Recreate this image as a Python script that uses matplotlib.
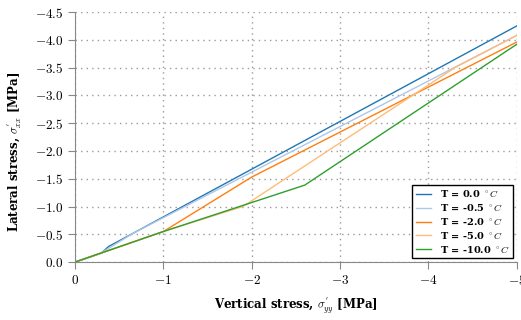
import matplotlib
matplotlib.use("Agg")
import matplotlib.pyplot as plt

plt.rcParams['font.family'] = 'DejaVu Serif'
plt.rcParams['mathtext.fontset'] = 'cm'

# vertical stress (x) and lateral stress (y), MPa, per temperature
x_t0 = [0.0, -0.30, -0.38, -5.0]
y_t0 = [0.0, -0.165, -0.28, -4.25]
x_t05 = [0.0, -0.28, -0.66, -5.0]
y_t05 = [0.0, -0.15, -0.52, -4.08]
x_t2 = [0.0, -1.0, -2.0, -5.0]
y_t2 = [0.0, -0.55, -1.53, -3.96]
x_t5 = [0.0, -1.0, -1.9, -4.3, -5.0]
y_t5 = [0.0, -0.55, -1.0, -3.5, -4.08]
x_t10 = [0.0, -1.0, -2.6, -5.0]
y_t10 = [0.0, -0.55, -1.385, -3.92]

labels = [r"T = 0.0 $^\circ C$", r"T = -0.5 $^\circ C$", r"T = -2.0 $^\circ C$",
          r"T = -5.0 $^\circ C$", r"T = -10.0 $^\circ C$"]
colors = ['#1f77b4', '#aec7e8', '#ff7f0e', '#ffbb78', '#2ca02c']

xticks = [0, -1, -2, -3, -4, -5]
yticks = [0.0, -0.5, -1.0, -1.5, -2.0, -2.5, -3.0, -3.5, -4.0, -4.5]

fig = plt.figure(figsize=(5.21, 3.2), dpi=100)
ax = fig.add_axes([0.144, 0.181, 0.848, 0.7815])

series = [(x_t0, y_t0), (x_t05, y_t05), (x_t2, y_t2), (x_t5, y_t5), (x_t10, y_t10)]
for (xs, ys), lab, c in zip(series, labels, colors):
    ax.plot(xs, ys, color=c, lw=1.0, label=lab)

ax.set_xlim(0, -5)
ax.set_ylim(0, -4.5)
ax.set_xticks(xticks)
ax.set_xticklabels([r"$%d$" % v for v in xticks])
ax.set_yticks(yticks)
ax.set_yticklabels([r"$%.1f$" % v for v in yticks])

for s in ['top', 'right']:
    ax.spines[s].set_visible(False)
for s in ['left', 'bottom']:
    ax.spines[s].set_color('#888888')
ax.tick_params(colors='#888888', labelcolor='black', labelsize=9.5, length=5, direction='out')
ax.grid(True, ls=(0, (1, 3)), color='#9a9a9a', lw=1.0)

ax.set_xlabel(r"Vertical stress, $\sigma^{'}_{yy}$ [MPa]", fontsize=8.5,
              fontweight='bold', labelpad=6)
ax.set_ylabel(r"Lateral stress, $\sigma^{'}_{xx}$ [MPa]", fontsize=8.5,
              fontweight='bold')
ax.yaxis.set_label_coords(-0.115, 0.44)

leg = ax.legend(loc='lower right', prop={'size': 7, 'weight': 'bold'}, fancybox=False,
                edgecolor='black', framealpha=1.0, borderaxespad=0.4,
                handlelength=1.6, labelspacing=0.3, handletextpad=0.9,
                borderpad=0.35)
leg.get_frame().set_linewidth(1.0)

fig.savefig('out.png', dpi=100)
